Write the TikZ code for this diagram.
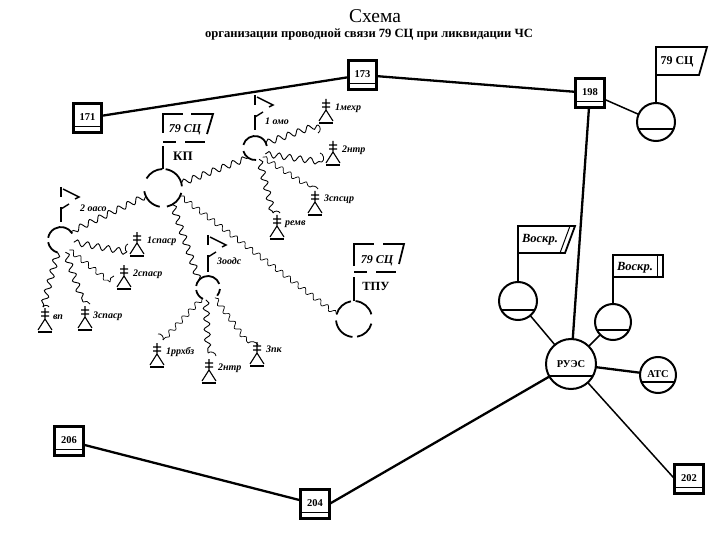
\documentclass[tikz,border=0pt]{standalone}
\usepackage{fontspec}
\setmainfont{Liberation Serif}
\usetikzlibrary{decorations.pathmorphing}
\tikzset{
  every node/.style={inner sep=0pt,outer sep=0pt},
  boxn/.style={draw,line width=2.6pt,minimum size=28.5pt,font=\bfseries\fontsize{10.5}{10}\selectfont},
  ringn/.style={circle,minimum size=#1},
  heavy/.style={line width=2.3pt},
  medium/.style={line width=1.5pt},
  fline/.style={line width=1.8pt},
  waveline/.style={line width=.9pt,decorate,decoration={snake,segment length=10.5pt,amplitude=3pt}},
  finewave/.style={line width=.7pt,decorate,decoration={snake,segment length=9.5pt,amplitude=2.4pt}},
  hook/.style={line width=.8pt},
  unitlabel/.style={anchor=west,font=\bfseries\itshape\fontsize{10}{10}\selectfont},
  flagtext/.style={font=\bfseries\fontsize{12}{12}\selectfont},
  voskr/.style={font=\bfseries\itshape\fontsize{12.5}{12}\selectfont}
}
\newcommand{\boxat}[4]{\node[boxn] (#1) at (#2,#3) {\raisebox{2pt}{#4}};
  \draw[line width=1.4pt] ([yshift=6pt]#1.south west) -- ([yshift=6pt]#1.south east);}
\newcommand{\barcircle}[6]{\node[circle,draw,line width=2pt,minimum size=#4,font=\bfseries\fontsize{10.5}{10}\selectfont] (#1) at (#2,#3) {#6};
  \draw[line width=1.4pt,shorten >=1pt,shorten <=1pt] ([yshift=-#5]#1.center) ++(-#4/2+#5*#5/#4,0) -- ++(#4-2*#5*#5/#4,0);}
\newcommand{\ringarc}[4]{\draw[fline,shift={(#1.center)},x=1pt,y=1pt] (#3:#2) arc[start angle=#3,end angle=#4,radius=#2pt];}
\newcommand{\unitflag}[3]{\begin{scope}[shift={(#1,#2)},line width=1.4pt]
  \draw (0,0) -- (0,10); \draw (0,20) -- (0,#3);
  \draw (2,2) -- (18,10) -- (14,12); \draw (8,17) -- (0,22);
\end{scope}}
\newcommand{\personat}[3]{\coordinate (#1) at (#2,#3);
  \begin{scope}[shift={(#1)}]
  \draw[line width=1.1pt] (0,0) -- (0,12) (-4,4) -- (4,4) (-4,8) -- (4,8) (-7,22) -- (0,11) -- (7,22);
  \draw[line width=1.5pt] (-7,24) -- (7,24);
  \end{scope}}
\begin{document}
\begin{tikzpicture}[x=1pt,y=-1pt]
\useasboundingbox (0,0) rectangle (720,540);
\node[font=\fontsize{19.5}{20}\selectfont] (title) at (375,16) {Схема};
\node[font=\bfseries\fontsize{12.6}{13}\selectfont] (subtitle) at (369,35) {организации проводной связи 79 СЦ при ликвидации ЧС};

% numbered boxes
\boxat{b171}{87.5}{118}{171}
\boxat{b173}{362.5}{75}{173}
\boxat{b198}{590}{93}{198}
\boxat{b206}{69}{441}{206}
\boxat{b204}{315}{504}{204}
\boxat{b202}{689}{479}{202}

% barred circles
\barcircle{c79}{656}{122}{38pt}{7pt}{}
\barcircle{cV1}{518}{301}{38pt}{9pt}{}
\barcircle{cV2}{613}{322}{36pt}{8pt}{}
\barcircle{ruez}{571}{364}{50pt}{12pt}{РУЭС}
\barcircle{atc}{658}{375}{36pt}{7pt}{\raisebox{1pt}{АТС}}

% wired lines
\draw[heavy] (b171) -- (b173);
\draw[heavy] (b173) -- (b198);
\draw[heavy] (b198) -- (ruez);
\draw[medium] (b198) -- (c79);
\draw[heavy] (b206) -- (b204);
\draw[heavy] (b204.east) -- (ruez);
\draw[medium] (ruez) -- (b202.west);
\draw[medium] (ruez) -- (cV1);
\draw[medium] (ruez) -- (cV2);
\draw[heavy] (ruez) -- (atc);

% flags on solid circles
\coordinate (f79) at (656,47);
\draw[fline] (c79) -- (f79) -- (707,47) -- (699,75) -- (656,75);
\node[flagtext] (t79) at (677,62) {79 СЦ};
\coordinate (fV1) at (518,226);
\draw[fline] (cV1) -- (fV1) -- (575,226) -- (565,253) -- (518,253);
\draw[line width=1pt] (570,226) -- (560,253);
\node[voskr] (tV1) at (540,240) {Воскр.};
\coordinate (fV2) at (613,255);
\draw[fline] (cV2) -- (fV2) -- (663,255) -- (663,277) -- (613,277);
\draw[line width=1pt] (657,255) -- (657,277);
\node[voskr] (tV2) at (635,268) {Воскр.};

% command post
\node[ringn=38pt] (kp) at (163,188) {};
\ringarc{kp}{19}{150}{92}
\ringarc{kp}{19}{82}{5}
\ringarc{kp}{19}{-15}{-78}
\ringarc{kp}{19}{-100}{-170}
\coordinate (kpf) at (163,146);
\draw[line width=2.2pt] (kp.north) -- (kpf);
\draw[fline] (163,133) -- (163,114) -- (183,114);
\draw[fline] (191,114) -- (213,114) -- (207,134);
\draw[line width=2.2pt] (163,142) -- (176,142);
\draw[line width=2.2pt] (185,142) -- (205,142);
\node[flagtext] (t79kp) at (185,130) {\itshape 79 СЦ};
\node[font=\bfseries\fontsize{13}{13}\selectfont] (tkp) at (183,156) {КП};

% reserve post
\node[ringn=36pt] (tpu) at (354,319) {};
\ringarc{tpu}{18}{85}{15}
\ringarc{tpu}{18}{100}{165}
\ringarc{tpu}{18}{185}{265}
\ringarc{tpu}{18}{280}{345}
\coordinate (tpuf) at (354,277);
\draw[line width=2.2pt] (tpu.north) -- (tpuf);
\draw[fline] (354,266) -- (354,244) -- (374,244);
\draw[fline] (383,244) -- (404,244) -- (399,264);
\draw[line width=2.2pt] (354,272) -- (367,272);
\draw[line width=2.2pt] (376,272) -- (396,272);
\node[flagtext] (t79tpu) at (377,261) {\itshape 79 СЦ};
\node[font=\bfseries\fontsize{12.5}{12}\selectfont] (ttpu) at (376,286) {ТПУ};

% subunits
\node[ringn=24pt] (o1) at (255,148) {};
\ringarc{o1}{12}{165}{10}
\ringarc{o1}{12}{-165}{-85}
\node[ringn=26pt] (o2) at (61,240) {};
\ringarc{o2}{13}{30}{170}
\ringarc{o2}{13}{190}{255}
\node[ringn=24pt] (o3) at (208,288) {};
\ringarc{o3}{12}{20}{170}
\ringarc{o3}{12}{190}{245}
\ringarc{o3}{12}{-5}{-40}
\unitflag{255}{95}{35}
\unitflag{61}{187}{35}
\unitflag{208}{235}{37}
\node[unitlabel] (l1) at (265,121) {1 омо};
\node[unitlabel] (l2) at (80,208) {2 оасо};
\node[unitlabel] (l3) at (217,261) {3оодс};

% people
\personat{p1}{326}{99}
\personat{p2}{333}{141}
\personat{p3}{315}{191}
\personat{p4}{277}{215}
\personat{p5}{137}{232}
\personat{p6}{124}{265}
\personat{p7}{45}{308}
\personat{p8}{85}{306}
\personat{p9}{157}{343}
\personat{p10}{209}{359}
\personat{p11}{257}{342}
\node[unitlabel] at (335,108) {1мехр};
\node[unitlabel] at (342,150) {2нтр};
\node[unitlabel] at (324,199) {3спсцр};
\node[unitlabel] at (285,224) {ремв};
\node[unitlabel] at (147,241) {1спаср};
\node[unitlabel] at (133,274) {2спаср};
\node[unitlabel] at (53,317) {вп};
\node[unitlabel] at (93,316) {3спаср};
\node[unitlabel] at (166,352) {1ррхбз};
\node[unitlabel] at (218,368) {2нтр};
\node[unitlabel] at (266,349) {3пк};

% wave ends
\coordinate (e1) at (318,125);
\coordinate (e2) at (322,162);
\coordinate (e3) at (310,187);
\coordinate (e4) at (273,213);
\coordinate (e5) at (127,252);
\coordinate (e6) at (110,282);
\coordinate (e7) at (43,307);
\coordinate (e8) at (83,302);
\coordinate (e9) at (163,340);
\coordinate (e10) at (208,353);
\coordinate (e11) at (248,343);

% field-cable lines
\draw[waveline] (kp.15) -- (o1.-125);
\draw[waveline] (kp.205) -- (o2.40);
\draw[waveline] (kp.-60) -- (o3.140);
\draw[finewave] (kp.-25) -- (tpu.165);
\draw[waveline] (o1.25) -- (e1);
\draw[waveline] (o1.-30) -- (e2);
\draw[finewave] (o1.-50) -- (e3);
\draw[waveline] (o1.-70) -- (e4);
\draw[waveline] (o2.-10) -- (e5);
\draw[finewave] (o2.-50) -- (e6);
\draw[waveline] (o2.-105) -- (e7);
\draw[waveline] (o2.-70) -- (e8);
\draw[finewave] (o3.-120) -- (e9);
\draw[waveline] (o3.-100) -- (e10);
\draw[finewave] (o3.-55) -- (e11);

% hooks beside the people
\draw[hook] (e1) to[bend left=70] ++(0,8);
\draw[hook] (e2) to[bend right=70] ++(-2,-9);
\draw[hook] (e3) to[bend left=50] ++(8,2);
\draw[hook] (e4) to[bend left=70] ++(7,0);
\draw[hook] (e5) to[bend left=70] ++(1,-8);
\draw[hook] (e6) to[bend left=50] ++(4,-6);
\draw[hook] (e7) to[bend left=70] ++(6,0);
\draw[hook] (e8) to[bend left=50] ++(7,2);
\draw[hook] (e9) to[bend right=70] ++(-5,-6);
\draw[hook] (e10) to[bend left=70] ++(8,3);
\draw[hook] (e11) to[bend left=50] ++(10,2);
\end{tikzpicture}
\end{document}
